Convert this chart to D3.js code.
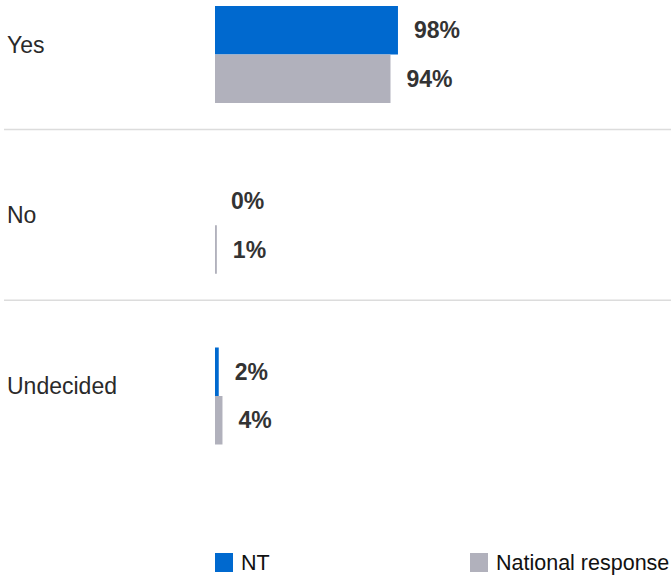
<!DOCTYPE html>
<html>
<head>
<meta charset="utf-8">
<script src="https://cdn.jsdelivr.net/npm/d3@7"></script>
<style>
  html, body { margin: 0; padding: 0; background: #fff; }
  svg { display: block; font-family: "Liberation Sans", Arial, Helvetica, sans-serif; }
</style>
</head>
<body>
<svg id="chart" width="671" height="578"></svg>
<script>
const categories = ["Yes", "No", "Undecided"];
const seriesNames = ["NT", "National response"];
const ntValues = [98, 0, 2];
const nationalValues = [94, 1, 4];
const colors = ["#0069cf", "#b1b1bc"];

const svg = d3.select("#chart");
const W = 671;

const x = d3.scaleLinear().domain([0, 100]).range([215, 401.7]);
const yCenter = d3.scalePoint().domain(categories).range([54.5, 396]);
const ySub = d3.scaleBand().domain(seriesNames).range([-48.5, 48.5]).padding(0);

const rows = categories.map((c, i) => ({
  cat: c,
  values: [
    { s: seriesNames[0], v: ntValues[i] },
    { s: seriesNames[1], v: nationalValues[i] }
  ]
}));

// separators between rows
svg.selectAll("line.sep")
  .data(categories.slice(0, -1))
  .join("line")
  .attr("class", "sep")
  .attr("x1", 4).attr("x2", W)
  .attr("y1", d => yCenter(d) + 75)
  .attr("y2", d => yCenter(d) + 75)
  .attr("stroke", "#dcdcdc")
  .attr("stroke-width", 1.5);

// category labels
svg.selectAll("text.cat")
  .data(categories)
  .join("text")
  .attr("class", "cat")
  .attr("x", 7)
  .attr("y", d => yCenter(d) - 10)
  .attr("dominant-baseline", "central")
  .attr("font-size", 23)
  .attr("fill", "#2a2a2a")
  .text(d => d);

const g = svg.selectAll("g.row")
  .data(rows)
  .join("g")
  .attr("class", "row")
  .attr("transform", d => `translate(0,${yCenter(d.cat)})`);

g.selectAll("rect")
  .data(d => d.values)
  .join("rect")
  .attr("x", x(0))
  .attr("y", d => ySub(d.s))
  .attr("width", d => x(d.v) - x(0))
  .attr("height", ySub.bandwidth())
  .attr("fill", d => colors[seriesNames.indexOf(d.s)]);

g.selectAll("text.val")
  .data(d => d.values)
  .join("text")
  .attr("class", "val")
  .attr("x", d => x(d.v) + 16)
  .attr("y", d => ySub(d.s) + ySub.bandwidth() / 2)
  .attr("dominant-baseline", "central")
  .attr("font-size", 23)
  .attr("font-weight", "bold")
  .attr("fill", "#333")
  .text(d => d.v + "%");

// legend
const legendX = [215, 470];
const lg = svg.selectAll("g.legend")
  .data(seriesNames)
  .join("g")
  .attr("class", "legend")
  .attr("transform", (d, i) => `translate(${legendX[i]},553)`);
lg.append("rect")
  .attr("width", 18).attr("height", 19)
  .attr("fill", (d, i) => colors[i]);
lg.append("text")
  .attr("x", 26)
  .attr("y", 10)
  .attr("dominant-baseline", "central")
  .attr("font-size", 21.5)
  .attr("fill", "#111")
  .text(d => d);
</script>
</body>
</html>
